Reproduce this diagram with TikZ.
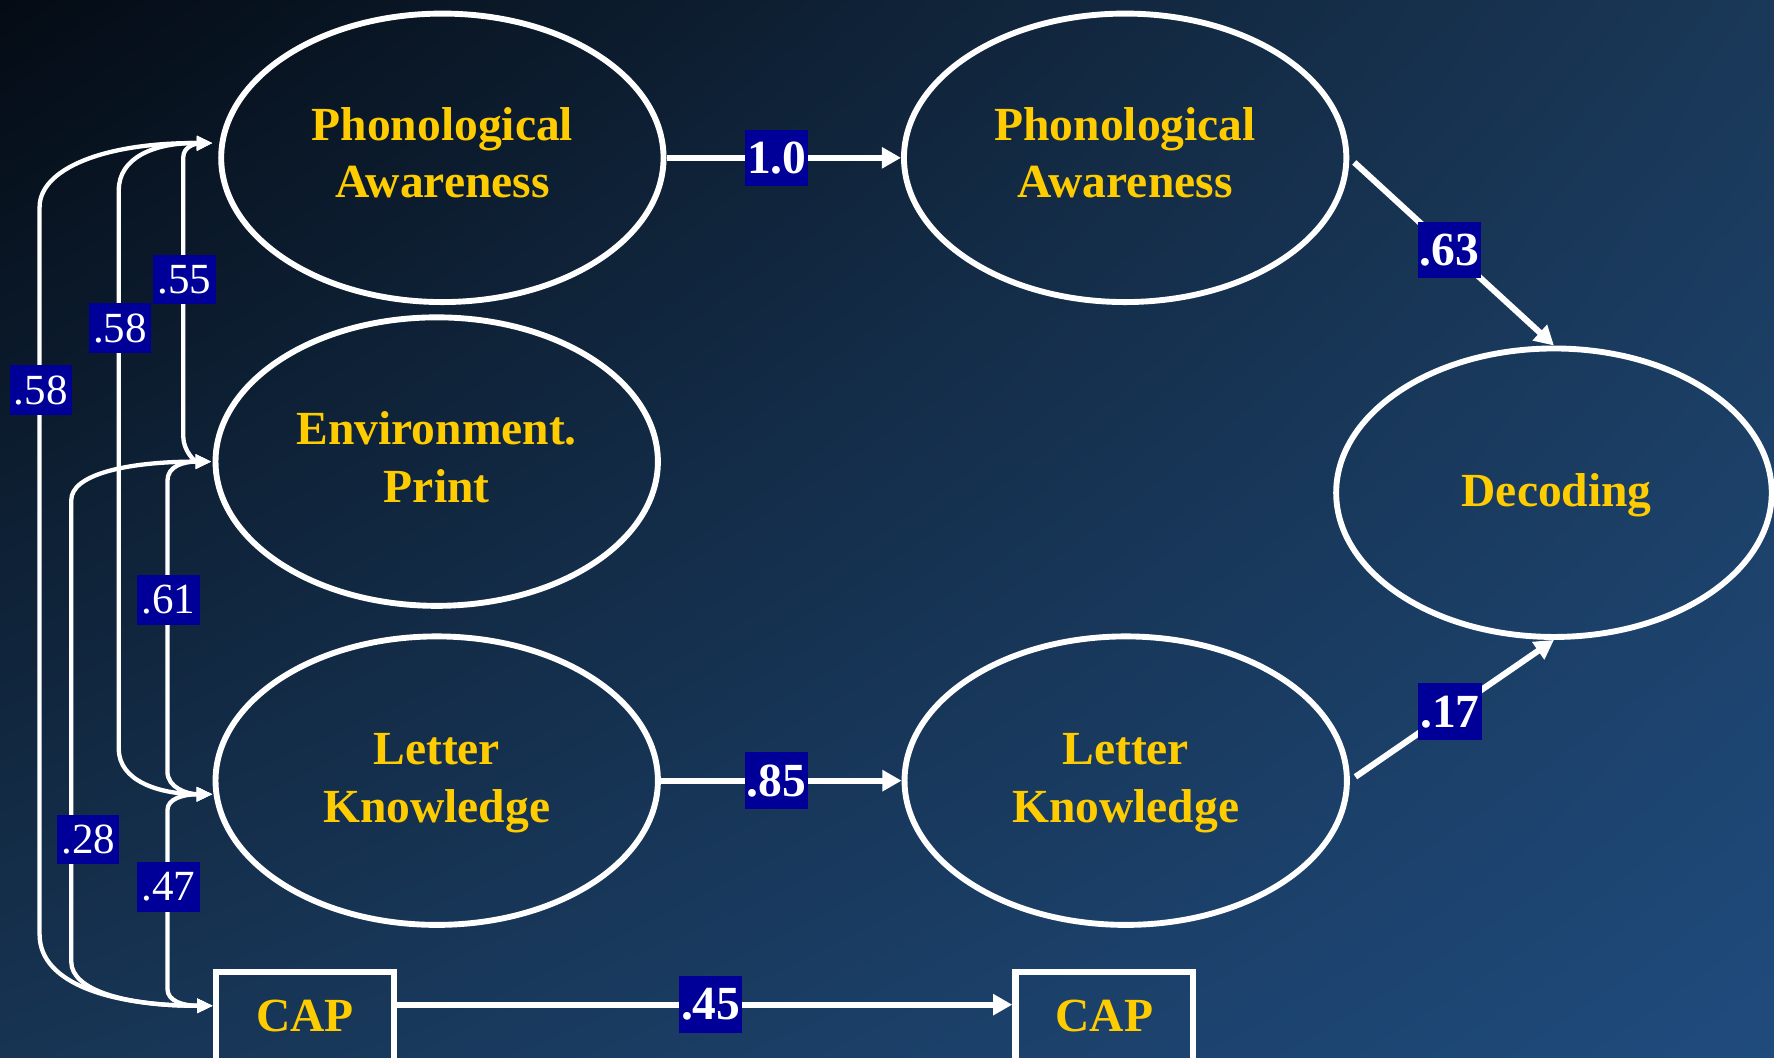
\documentclass[tikz,border=0pt]{standalone}
\usepackage{fontspec}
\setmainfont{Liberation Serif}
\usetikzlibrary{shapes.geometric,arrows.meta,calc,shadings}
\definecolor{bgTL}{HTML}{040B14}
\definecolor{bgTR}{HTML}{1A3858}
\definecolor{bgBL}{HTML}{173453}
\definecolor{bgBR}{HTML}{1F4B7D}
\definecolor{coefblue}{HTML}{000099}
\definecolor{capyellow}{HTML}{FFCC00}
\begin{document}
\begin{tikzpicture}[x=0.5pt,y=-0.5pt,
  lat/.style={ellipse, draw=white, line width=2.6pt, minimum width=195.5pt, minimum height=127.5pt,
    inner sep=0pt},
  lattext/.style={text=capyellow, font=\fontsize{21}{25.5}\selectfont\bfseries, align=center, inner sep=0pt},
  obs/.style={rectangle, draw=white, line width=2.8pt, minimum width=78.5pt, minimum height=43pt,
    inner sep=0pt, text height=15pt, text depth=5pt, text=capyellow, font=\fontsize{21}{25.5}\selectfont\bfseries},
  coef/.style={fill=coefblue, text=white, font=\fontsize{21}{24}\selectfont\bfseries, inner sep=0pt,
    minimum width=28pt, minimum height=25pt},
  cor/.style={fill=coefblue, text=white, font=\fontsize{19}{22}\selectfont, inner sep=0pt,
    minimum width=27.5pt, minimum height=22pt},
  pth/.style={draw=white, line width=2.7pt, -{Triangle[length=8.5pt,width=9pt]}},
  covar/.style={draw=white, line width=1.9pt, {Triangle[length=7pt,width=6pt]}-{Triangle[length=7pt,width=6pt]}}
]
\shade[upper left=bgTL, upper right=bgTR, lower left=bgBL, lower right=bgBR] (0,0) rectangle (1568,935);
\useasboundingbox (0,0) rectangle (1568,935);

\node[lat, label={[lattext, name=pa1t, yshift=2.3pt]center:Phonological\\Awareness}] (pa1) at (391,139.5) {};
\node[lat, label={[lattext, name=ept, yshift=1.8pt]center:Environment.\\Print}] (ep) at (386,408) {};
\node[lat, label={[lattext, name=lk1t, yshift=-1.2pt]center:Letter\\Knowledge}] (lk1) at (386,690) {};
\node[lat, label={[lattext, name=pa2t, yshift=2.3pt]center:Phonological\\Awareness}] (pa2) at (994.5,139.5) {};
\node[lat, label={[lattext, name=lk2t, yshift=-1.2pt]center:Letter\\Knowledge}] (lk2) at (995,690) {};
\node[lat, minimum width=192.5pt, label={[lattext, name=dect, yshift=-1pt, xshift=1.2pt]center:Decoding}] (dec) at (1373.5,435.5) {};
\node[obs] (cap1) at (269.5,902) {CAP};
\node[obs] (cap2) at (976,902) {CAP};

\draw[pth] (pa1.east) -- node[coef,pos=0.47] (c10) {1.0} (pa2.west);
\draw[pth] (lk1.east) -- node[coef,pos=0.48] (c85) {.85} (lk2.west);
\draw[pth] ($(cap1.east)+(0,-14)$) -- node[coef,pos=0.51] (c45) {.45} ($(cap2.west)+(0,-14)$);
\draw[pth, shorten <=3pt] (pa2.east) -- node[coef,pos=0.49] (c63) {.63} (dec.north);
\draw[pth, shorten <=3pt] (lk2.east) -- node[coef,pos=0.49] (c17) {.17} (dec.south);

\coordinate (pa1L) at ($(pa1.west)+(-5,-13)$);
\coordinate (epL) at ($(ep.west)+(-1,0)$);
\coordinate (lk1L) at ($(lk1.west)+(0,12)$);
\coordinate (cap1L) at ($(cap1.west)+(0,-13)$);

\draw[covar] (pa1L) .. controls (90,126) and (35,150) .. (35,183) -- (35,826) .. controls (35,870) and (100,889) .. (cap1L);
\draw[covar] (pa1L) .. controls (135,126) and (105,140) .. (105,168) -- (105,662) .. controls (105,690) and (140,702) .. (lk1L);
\draw[covar] (pa1L) .. controls (172,127) and (162,130) .. (162,139) -- (162,386) .. controls (162,398) and (172,408) .. (epL);
\draw[covar] (epL) .. controls (110,408) and (63,420) .. (63,442) -- (63,850) .. controls (63,875) and (110,889) .. (cap1L);
\draw[covar] (epL) .. controls (162,408) and (148,412) .. (148,425) -- (148,682) .. controls (148,696) and (165,702) .. (lk1L);
\draw[covar] (lk1L) .. controls (162,702) and (148,706) .. (148,716) -- (148,874) .. controls (148,885) and (162,889) .. (cap1L);

\node[cor] (k58a) at (36,345) {.58};
\node[cor] (k58b) at (106,290) {.58};
\node[cor] (k55) at (163,247) {.55};
\node[cor] (k61) at (149,530) {.61};
\node[cor] (k28) at (78,742) {.28};
\node[cor] (k47) at (149,784) {.47};
\end{tikzpicture}
\end{document}
